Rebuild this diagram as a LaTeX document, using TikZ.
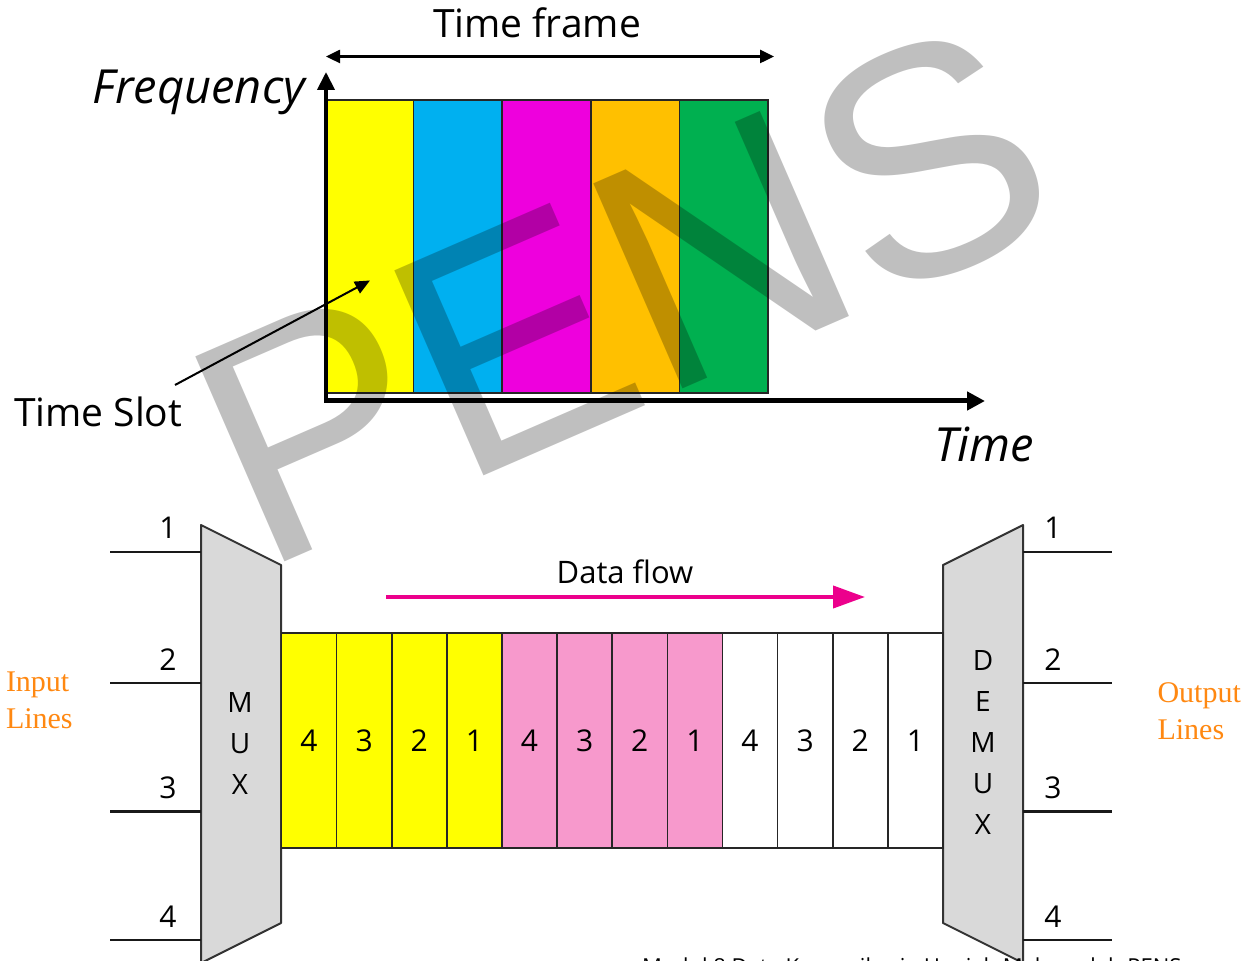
\documentclass[tikz,border=0pt]{standalone}
\usepackage{fontspec}
\setmainfont{Open Sans}
\newfontfamily\labelserif{Liberation Serif}
\newfontfamily\wmarkfont{Liberation Sans}
\usetikzlibrary{arrows.meta}

\definecolor{slotyellow}{HTML}{FFFF00}
\definecolor{slotcyan}{HTML}{00B0F0}
\definecolor{slotmagenta}{HTML}{EE00DD}
\definecolor{slotorange}{HTML}{FFC000}
\definecolor{slotgreen}{HTML}{00B050}
\definecolor{cellpink}{HTML}{F799CC}
\definecolor{muxgray}{HTML}{D9D9D9}
\definecolor{flowpink}{HTML}{EC008C}
\definecolor{lineorange}{HTML}{FF8811}

\begin{document}
\begin{tikzpicture}[x=0.5pt, y=-0.5pt,
  every node/.style={inner sep=0pt, outer sep=0pt},
  slotbox/.style={draw=black!85, line width=0.8pt, minimum width=44.3pt, minimum height=146.5pt},
  cellbox/.style={draw=black!85, line width=0.8pt, minimum width=27.56pt, minimum height=107.25pt,
    font=\fontsize{15}{18}\selectfont},
  muxbox/.style={fill=muxgray, draw=black!80, line width=1pt, line join=round},
  wire/.style={draw=black!90, line width=1.4pt},
  numlabel/.style={anchor=base, font=\fontsize{15}{18}\selectfont},
  muxletter/.style={font=\fontsize{14}{16}\selectfont},
  axisline/.style={line width=2pt, -{Triangle[length=9pt,width=8.5pt]}},
  sidelabel/.style={anchor=north west, align=left, text=lineorange,
    font=\labelserif\fontsize{15}{18.5}\selectfont},
  axislabel/.style={font=\itshape\fontsize{23.5}{28}\selectfont},
]
% page
\fill[white] (0,0) rectangle (1246,961);
\useasboundingbox (0,0) rectangle (1246,961);

% ---------- time slots ----------
\foreach \i/\c in {0/slotyellow,1/slotcyan,2/slotmagenta,3/slotorange,4/slotgreen}
  \node[slotbox, fill=\c] (s\i) at ({325+88.6*(\i+0.5)}, 246.5) {};

% axes
\coordinate (origin) at (326,401);
\coordinate (ftip) at (326,72);
\coordinate (tstart) at (324,401);
\coordinate (ttip) at (985,401);
\draw[axisline] (origin) -- (ftip);
\draw[line width=2.5pt, -{Triangle[length=9pt,width=9pt]}] (tstart) -- (ttip);

% time frame span
\coordinate (fl) at (326,56.5);
\coordinate (fr) at (774,56.5);
\draw[line width=1.25pt, {Triangle[length=7pt,width=6.5pt]}-{Triangle[length=7pt,width=6.5pt]}] (fl) -- (fr);
\node[anchor=base, font=\fontsize{19.5}{23}\selectfont] (tframe) at (537,38) {Time frame};

\node[axislabel, anchor=base east] (freq) at (305,104) {Frequency};
\node[axislabel, anchor=base west] (time) at (934,461.5) {Time};

% time slot pointer
\node[anchor=base west, font=\fontsize{19.5}{23}\selectfont] (tslot) at (14,427) {Time Slot};
\coordinate (pstart) at (175,385);
\coordinate (ptip) at (370,280.5);
\draw[line width=1pt, -{Triangle[length=7.5pt,width=6.5pt]}] (pstart) -- (ptip);

% ---------- multiplexer ----------
\coordinate (m1) at (201,525);
\coordinate (m2) at (281,565);
\coordinate (m3) at (281,923);
\coordinate (m4) at (201,963);
\draw[muxbox] (m1) -- (m2) -- (m3) -- (m4) -- cycle;
\node[muxletter] (muxM) at (240,703) {M};
\node[muxletter] (muxU) at (240,744) {U};
\node[muxletter] (muxX) at (240,785) {X};

% demultiplexer
\coordinate (d1) at (1023,525);
\coordinate (d2) at (1023,963);
\coordinate (d3) at (943,923);
\coordinate (d4) at (943,565);
\draw[muxbox] (d1) -- (d2) -- (d3) -- (d4) -- cycle;
\foreach \k/\ch/\ly in {1/D/661,2/E/702,3/M/743,4/U/784,5/X/825}
  \node[muxletter] (dmx\k) at (983,\ly) {\ch};

% input and output lines
\foreach \k/\ly in {1/552,2/683,3/811.5,4/940} {
  \coordinate (inL\k) at (110,\ly);
  \coordinate (inR\k) at (201,\ly);
  \draw[wire] (inL\k) -- (inR\k);
  \node[numlabel] (inN\k) at (168,{\ly-13}) {\k};
  \coordinate (outL\k) at (1023,\ly);
  \coordinate (outR\k) at (1112,\ly);
  \draw[wire] (outL\k) -- (outR\k);
  \node[numlabel] (outN\k) at (1053,{\ly-13}) {\k};
}

% frames of slots
\foreach \i/\n/\c in {0/4/slotyellow,1/3/slotyellow,2/2/slotyellow,3/1/slotyellow,
                      4/4/cellpink,5/3/cellpink,6/2/cellpink,7/1/cellpink,
                      8/4/white,9/3/white,10/2/white,11/1/white}
  \node[cellbox, fill=\c] (c\i) at ({281.5+55.125*(\i+0.5)}, 740.5) {\n};

% data flow
\node[anchor=base, font=\fontsize{15.5}{18}\selectfont] (dflow) at (625,583) {Data flow};
\coordinate (df1) at (386,597);
\coordinate (df2) at (865,597);
\draw[flowpink, line width=2pt, -{Triangle[length=16pt,width=11pt]}] (df1) -- (df2);

% side labels
\node[sidelabel] (inlines) at (6,671.5) {Input\\Lines};
\node[sidelabel] (outlines) at (1157.5,683) {Output\\Lines};

% footer
\node[anchor=base west, font=\fontsize{11}{13}\selectfont] (footer) at (642,974.5)
  {Modul 8 Data Komunikasi - Haniah Mahmudah PENS};

% watermark
\node[anchor=base west, rotate=23.5, text=black, text opacity=0.25,
  font=\wmarkfont\fontsize{162.5}{190}\selectfont] (wmark) at (260.6,572.8) {PENS};
\end{tikzpicture}
\end{document}
